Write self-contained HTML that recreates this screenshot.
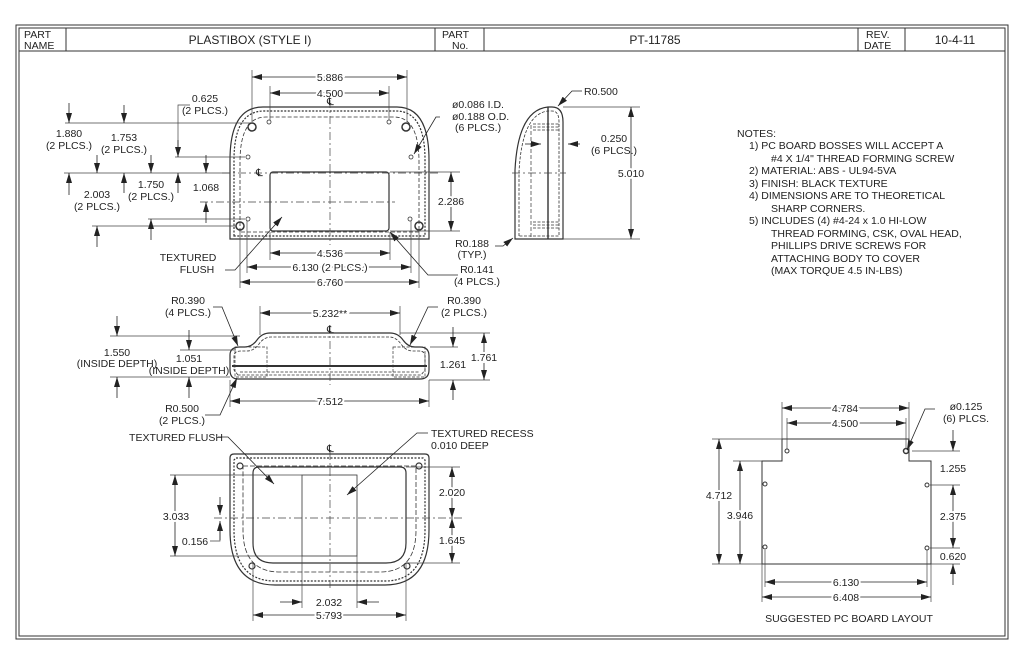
<!DOCTYPE html>
<html><head><meta charset="utf-8"><style>
html,body{margin:0;padding:0;background:#fff;}
svg{display:block;}
text{font-family:"Liberation Sans Narrow","Liberation Sans",sans-serif;font-size:10.5px;fill:#222;}
.d{paint-order:stroke;stroke:#fff;stroke-width:4px;}
.t{font-size:12px;}
</style></head><body>
<svg width="1024" height="663" viewBox="0 0 1024 663" xmlns="http://www.w3.org/2000/svg">
<defs>
<marker id="a" viewBox="0 0 10 6" refX="10" refY="3" markerWidth="10" markerHeight="6" markerUnits="userSpaceOnUse" orient="auto-start-reverse"><path d="M0,0L10,3L0,6z" fill="#222"/></marker>
</defs>
<g fill="none" stroke="#333" stroke-width="1">
<!-- frame -->
<rect x="16" y="25" width="992" height="614"/>
<rect x="19" y="28" width="986" height="608"/>
<line x1="19" y1="51" x2="1005" y2="51"/>
<line x1="66" y1="28" x2="66" y2="51"/><line x1="435" y1="28" x2="435" y2="51"/><line x1="484" y1="28" x2="484" y2="51"/>
<line x1="858" y1="28" x2="858" y2="51"/><line x1="905" y1="28" x2="905" y2="51"/>
</g>
<text x="24" y="38">PART</text><text x="24" y="49">NAME</text>
<text class="t" x="250" y="44" text-anchor="middle">PLASTIBOX (STYLE I)</text>
<text x="442" y="38">PART</text><text x="452" y="49">No.</text>
<text class="t" x="655" y="44" text-anchor="middle">PT-11785</text>
<text x="866" y="38">REV.</text><text x="864" y="49">DATE</text>
<text class="t" x="955" y="44" text-anchor="middle">10-4-11</text>

<!-- FRONT VIEW -->
<g fill="none" stroke="#333" stroke-width="1.2">
<path d="M230,239 L230,160 Q230,107 263,107 L397,107 Q429,107 429,160 L429,239 Z"/>
<path d="M234,236 L234,160 Q234,111 264,111 L396,111 Q425,111 425,160 L425,236 Z" stroke-dasharray="2,1.5"/>
<path d="M240,232 L240,162 Q240,117 266,117 L394,117 Q419,117 419,162 L419,232 Z" stroke-dasharray="4,2" stroke-width=".8"/>
<rect x="270" y="172" width="119" height="59" rx="3"/>
<g stroke-width="1.5"><circle cx="252" cy="127" r="4"/><circle cx="406" cy="127" r="4"/><circle cx="240" cy="226" r="4"/><circle cx="419" cy="226" r="4"/></g>
<g stroke-width=".8"><circle cx="269" cy="122" r="2"/><circle cx="389" cy="122" r="2"/><circle cx="248" cy="157" r="2"/><circle cx="411" cy="157" r="2"/><circle cx="248" cy="219" r="2"/><circle cx="410" cy="219" r="2"/></g>
</g>
<g fill="none" stroke="#444" stroke-width=".7">
<line x1="330" y1="100" x2="330" y2="245" stroke-dasharray="8,3,2,3"/>
<line x1="222" y1="173" x2="440" y2="173" stroke-dasharray="8,3,2,3"/>
<line x1="200" y1="202" x2="395" y2="202" stroke-dasharray="8,3,2,3"/>
<!-- ext lines -->
<line x1="252" y1="70" x2="252" y2="122"/><line x1="407" y1="70" x2="407" y2="122"/>
<line x1="270" y1="86" x2="270" y2="120"/><line x1="389" y1="86" x2="389" y2="120"/>
<line x1="270" y1="232" x2="270" y2="260"/><line x1="390" y1="232" x2="390" y2="260"/>
<line x1="247" y1="221" x2="247" y2="273"/><line x1="411" y1="221" x2="411" y2="273"/>
<line x1="240" y1="231" x2="240" y2="288"/><line x1="419" y1="231" x2="419" y2="288"/>
<line x1="390" y1="172" x2="460" y2="172"/><line x1="390" y1="231" x2="460" y2="231"/>
<line x1="65" y1="123" x2="250" y2="123"/><line x1="64" y1="173" x2="230" y2="173"/>
<line x1="175" y1="157" x2="245" y2="157"/><line x1="148" y1="219" x2="245" y2="219"/>
<line x1="92" y1="226" x2="236" y2="226"/>
<polyline points="190,105 178,105 178,157"/>
</g>
<g stroke="#222" stroke-width=".8" fill="none">
<line x1="252" y1="77" x2="407" y2="77" marker-start="url(#a)" marker-end="url(#a)"/>
<line x1="270" y1="93" x2="389" y2="93" marker-start="url(#a)" marker-end="url(#a)"/>
<line x1="270" y1="253" x2="390" y2="253" marker-start="url(#a)" marker-end="url(#a)"/>
<line x1="247" y1="267" x2="411" y2="267" marker-start="url(#a)" marker-end="url(#a)"/>
<line x1="240" y1="282" x2="419" y2="282" marker-start="url(#a)" marker-end="url(#a)"/>
<line x1="451" y1="172" x2="451" y2="231" marker-start="url(#a)" marker-end="url(#a)"/>
<line x1="69" y1="103" x2="69" y2="123" marker-end="url(#a)"/><line x1="69" y1="195" x2="69" y2="173" marker-end="url(#a)"/>
<line x1="124" y1="105" x2="124" y2="123" marker-end="url(#a)"/><line x1="124" y1="193" x2="124" y2="173" marker-end="url(#a)"/>
<line x1="97" y1="155" x2="97" y2="173" marker-end="url(#a)"/><line x1="97" y1="247" x2="97" y2="226" marker-end="url(#a)"/>
<line x1="151" y1="155" x2="151" y2="173" marker-end="url(#a)"/><line x1="151" y1="240" x2="151" y2="219" marker-end="url(#a)"/>
<line x1="178" y1="140" x2="178" y2="157" marker-end="url(#a)"/><line x1="178" y1="193" x2="178" y2="173" marker-end="url(#a)"/>
<line x1="206" y1="155" x2="206" y2="173" marker-end="url(#a)"/><line x1="206" y1="223" x2="206" y2="202" marker-end="url(#a)"/>
<polyline points="440,117 436,117 414,154" marker-end="url(#a)"/>
<polyline points="225,270 235,270 282,217" marker-end="url(#a)"/>
<polyline points="458,275 428,275 390,232" marker-end="url(#a)"/>
<polyline points="495,246 503,246 513,238" marker-end="url(#a)"/>
</g>
<g>
<text class="d" x="330" y="81" text-anchor="middle">5.886</text>
<text class="d" x="330" y="97" text-anchor="middle">4.500</text>
<text class="d" x="330" y="257" text-anchor="middle">4.536</text>
<text class="d" x="330" y="271" text-anchor="middle">6.130 (2 PLCS.)</text>
<text class="d" x="330" y="286" text-anchor="middle">6.760</text>
<text class="d" x="451" y="205" text-anchor="middle">2.286</text>
<text x="69" y="137" text-anchor="middle">1.880</text><text x="69" y="149" text-anchor="middle">(2 PLCS.)</text>
<text x="124" y="141" text-anchor="middle">1.753</text><text x="124" y="153" text-anchor="middle">(2 PLCS.)</text>
<text x="97" y="198" text-anchor="middle">2.003</text><text x="97" y="210" text-anchor="middle">(2 PLCS.)</text>
<text x="151" y="188" text-anchor="middle">1.750</text><text x="151" y="200" text-anchor="middle">(2 PLCS.)</text>
<text x="206" y="191" text-anchor="middle">1.068</text>
<text x="205" y="102" text-anchor="middle">0.625</text><text x="205" y="114" text-anchor="middle">(2 PLCS.)</text>
<text x="452" y="108">ø0.086 I.D.</text><text x="452" y="120">ø0.188 O.D.</text><text x="455" y="131">(6 PLCS.)</text>
<text x="188" y="261" text-anchor="middle">TEXTURED</text><text x="197" y="273" text-anchor="middle">FLUSH</text>
<text x="472" y="247" text-anchor="middle">R0.188</text><text x="472" y="258" text-anchor="middle">(TYP.)</text>
<text x="477" y="273" text-anchor="middle">R0.141</text><text x="477" y="285" text-anchor="middle">(4 PLCS.)</text>
<text x="327" y="105" font-size="8">℄</text><text x="256" y="176" font-size="8">℄</text>
</g>

<!-- SIDE VIEW -->
<g fill="none" stroke="#333" stroke-width="1.2">
<path d="M515,239 L515,170 Q518,110 548,107 L552,107 Q563,107 563,122 L563,239 Z"/>
<path d="M519,236 L519,172 Q522,114 548,111 L552,111 Q559,111 559,122 L559,236 Z" stroke-dasharray="3,1.5" stroke-width=".8"/>
<line x1="548" y1="107" x2="548" y2="239" stroke-width="1.4"/>
<line x1="531" y1="125" x2="531" y2="237" stroke-width=".7" stroke-dasharray="4,2"/>
<g stroke-width=".7" stroke-dasharray="3,1.5"><line x1="533" y1="124" x2="560" y2="124"/><line x1="533" y1="127" x2="560" y2="127"/><line x1="533" y1="130" x2="560" y2="130"/><line x1="533" y1="222" x2="560" y2="222"/><line x1="533" y1="225" x2="560" y2="225"/><line x1="533" y1="228" x2="560" y2="228"/></g>
</g>
<g stroke="#444" stroke-width=".7" fill="none">
<line x1="512" y1="173" x2="566" y2="173" stroke-dasharray="8,3,2,3"/>
<line x1="563" y1="107" x2="640" y2="107"/><line x1="563" y1="239" x2="640" y2="239"/>
</g>
<g stroke="#222" stroke-width=".8" fill="none">
<line x1="631" y1="107" x2="631" y2="239" marker-start="url(#a)" marker-end="url(#a)"/>
<line x1="525" y1="144" x2="541" y2="144" marker-end="url(#a)"/><line x1="580" y1="144" x2="568" y2="144" marker-end="url(#a)"/>
<polyline points="582,91 572,91 558,106" marker-end="url(#a)"/>
</g>
<text class="d" x="631" y="177" text-anchor="middle">5.010</text>
<text x="584" y="95">R0.500</text>
<text x="614" y="142" text-anchor="middle">0.250</text><text x="614" y="154" text-anchor="middle">(6 PLCS.)</text>

<!-- NOTES -->
<g>
<text x="737" y="137">NOTES:</text>
<text x="749" y="149">1) PC BOARD BOSSES WILL ACCEPT A</text>
<text x="771" y="162">#4 X 1/4" THREAD FORMING SCREW</text>
<text x="749" y="174">2) MATERIAL: ABS - UL94-5VA</text>
<text x="749" y="187">3) FINISH: BLACK TEXTURE</text>
<text x="749" y="199">4) DIMENSIONS ARE TO THEORETICAL</text>
<text x="771" y="212">SHARP CORNERS.</text>
<text x="749" y="224">5) INCLUDES (4) #4-24 x 1.0 HI-LOW</text>
<text x="771" y="237">THREAD FORMING, CSK, OVAL HEAD,</text>
<text x="771" y="249">PHILLIPS DRIVE SCREWS FOR</text>
<text x="771" y="262">ATTACHING BODY TO COVER</text>
<text x="771" y="274">(MAX TORQUE 4.5 IN-LBS)</text>
</g>

<!-- TOP (DEPTH) VIEW -->
<g fill="none" stroke="#333" stroke-width="1.2">
<path d="M238,379 Q230,379 230,370 L230,355 Q230,347 240,347 L245,347 Q252,347 257,340 Q262,333 270,333 L390,333 Q398,333 403,340 Q408,347 415,347 L420,347 Q429,347 429,356 L429,370 Q429,379 420,379 Z"/>
<path d="M238,375 L234,370 L234,356 Q234,351 241,351 L247,351 Q254,351 259,344 Q264,337 271,337 L389,337 Q396,337 401,344 Q406,351 413,351 L419,351 Q425,351 425,356 L425,370 L421,375 Z" stroke-dasharray="3,1.5" stroke-width=".8"/>
<line x1="232" y1="366" x2="427" y2="366" stroke-width="2"/>
<g stroke-width=".7" stroke-dasharray="3,1.5"><rect x="235" y="347" width="32" height="30"/><rect x="393" y="347" width="32" height="30"/><line x1="240" y1="372" x2="420" y2="372"/></g>
</g>
<g stroke="#444" stroke-width=".7" fill="none">
<line x1="330" y1="325" x2="330" y2="385" stroke-dasharray="8,3,2,3"/>
<line x1="260" y1="306" x2="260" y2="335"/><line x1="400" y1="306" x2="400" y2="335"/>
<line x1="230" y1="380" x2="230" y2="407"/><line x1="429" y1="380" x2="429" y2="407"/>
<line x1="400" y1="333" x2="490" y2="333"/><line x1="429" y1="380" x2="490" y2="380"/><line x1="430" y1="347" x2="458" y2="347"/>
<line x1="110" y1="336" x2="240" y2="336"/><line x1="110" y1="377" x2="230" y2="377"/><line x1="180" y1="350" x2="236" y2="350"/>
</g>
<g stroke="#222" stroke-width=".8" fill="none">
<line x1="260" y1="313" x2="400" y2="313" marker-start="url(#a)" marker-end="url(#a)"/>
<line x1="230" y1="401" x2="429" y2="401" marker-start="url(#a)" marker-end="url(#a)"/>
<line x1="484" y1="333" x2="484" y2="380" marker-start="url(#a)" marker-end="url(#a)"/>
<line x1="453" y1="327" x2="453" y2="347" marker-end="url(#a)"/><line x1="453" y1="400" x2="453" y2="380" marker-end="url(#a)"/>
<line x1="117" y1="316" x2="117" y2="336" marker-end="url(#a)"/><line x1="117" y1="398" x2="117" y2="377" marker-end="url(#a)"/>
<line x1="189" y1="330" x2="189" y2="350" marker-end="url(#a)"/><line x1="189" y1="398" x2="189" y2="377" marker-end="url(#a)"/>
<polyline points="213,307 222,307 238,346" marker-end="url(#a)"/>
<polyline points="438,307 428,307 410,345" marker-end="url(#a)"/>
<polyline points="205,415 220,415 237,378" marker-end="url(#a)"/>
</g>
<text class="d" x="330" y="317" text-anchor="middle">5.232**</text>
<text class="d" x="330" y="405" text-anchor="middle">7.512</text>
<text class="d" x="484" y="361" text-anchor="middle">1.761</text>
<text x="453" y="368" text-anchor="middle">1.261</text>
<text x="117" y="356" text-anchor="middle">1.550</text><text x="117" y="367" text-anchor="middle">(INSIDE DEPTH)</text>
<text x="189" y="362" text-anchor="middle">1.051</text><text x="189" y="374" text-anchor="middle">(INSIDE DEPTH)</text>
<text x="188" y="304" text-anchor="middle">R0.390</text><text x="188" y="316" text-anchor="middle">(4 PLCS.)</text>
<text x="464" y="304" text-anchor="middle">R0.390</text><text x="464" y="316" text-anchor="middle">(2 PLCS.)</text>
<text x="182" y="412" text-anchor="middle">R0.500</text><text x="182" y="424" text-anchor="middle">(2 PLCS.)</text>
<text x="327" y="333" font-size="8">℄</text>

<!-- BOTTOM VIEW -->
<g fill="none" stroke="#333" stroke-width="1.2">
<path d="M234,454 L425,454 Q429,454 429,458 L429,530 Q429,585 385,585 L275,585 Q230,585 230,530 L230,458 Q230,454 234,454 Z"/>
<path d="M236,458 L423,458 L425,460 L425,530 Q425,581 385,581 L275,581 Q234,581 234,530 L234,460 Z" stroke-dasharray="2,1.5"/>
<path d="M243,466 L416,466 L416,530 Q416,572 380,572 L280,572 Q243,572 243,530 Z" stroke-dasharray="5,2" stroke-width=".8"/>
<path d="M259,467 L400,467 Q406,467 406,473 L406,543 Q406,563 386,563 L273,563 Q253,563 253,543 L253,473 Q253,467 259,467 Z"/>
<rect x="302" y="475" width="55" height="81" stroke-width=".8"/>
<g stroke-width="1.2"><circle cx="240" cy="466" r="3"/><circle cx="419" cy="466" r="3"/><circle cx="252" cy="566" r="3"/><circle cx="407" cy="566" r="3"/></g>
</g>
<g stroke="#444" stroke-width=".7" fill="none">
<line x1="330" y1="452" x2="330" y2="590" stroke-dasharray="8,3,2,3"/>
<line x1="214" y1="518" x2="462" y2="518" stroke-dasharray="8,3,2,3"/>
<line x1="406" y1="467" x2="460" y2="467"/><line x1="406" y1="563" x2="460" y2="563"/>
<line x1="170" y1="475" x2="302" y2="475"/><line x1="170" y1="556" x2="302" y2="556"/>
<line x1="302" y1="556" x2="302" y2="608"/><line x1="357" y1="556" x2="357" y2="608"/>
<line x1="253" y1="563" x2="253" y2="621"/><line x1="406" y1="563" x2="406" y2="621"/>
<polyline points="210,541 220,541 220,522"/>
</g>
<g stroke="#222" stroke-width=".8" fill="none">
<line x1="452" y1="467" x2="452" y2="518" marker-start="url(#a)" marker-end="url(#a)"/>
<line x1="452" y1="518" x2="452" y2="563" marker-start="url(#a)" marker-end="url(#a)"/>
<line x1="175" y1="475" x2="175" y2="556" marker-start="url(#a)" marker-end="url(#a)"/>
<line x1="220" y1="497" x2="220" y2="515" marker-end="url(#a)"/><line x1="220" y1="540" x2="220" y2="521" marker-end="url(#a)"/>
<line x1="280" y1="602" x2="302" y2="602" marker-end="url(#a)"/><line x1="379" y1="602" x2="357" y2="602" marker-end="url(#a)"/>
<line x1="253" y1="615" x2="406" y2="615" marker-start="url(#a)" marker-end="url(#a)"/>
<polyline points="218,437 228,437 274,484" marker-end="url(#a)"/>
<polyline points="428,433 417,433 347,495" marker-end="url(#a)"/>
</g>
<text class="d" x="452" y="496" text-anchor="middle">2.020</text>
<text class="d" x="452" y="544" text-anchor="middle">1.645</text>
<text class="d" x="176" y="520" text-anchor="middle">3.033</text>
<text x="195" y="545" text-anchor="middle">0.156</text>
<text x="329" y="606" text-anchor="middle">2.032</text>
<text class="d" x="329" y="619" text-anchor="middle">5.793</text>
<text x="176" y="441" text-anchor="middle">TEXTURED FLUSH</text>
<text x="431" y="437">TEXTURED RECESS</text><text x="431" y="449">0.010 DEEP</text>
<text x="327" y="452" font-size="8">℄</text>

<!-- PC BOARD -->
<g fill="none" stroke="#333" stroke-width="1">
<path d="M782,439 L909,439 L909,461 L931,461 L931,564 L762,564 L762,461 L782,461 Z"/>
<circle cx="787" cy="451" r="2"/><circle cx="906" cy="451" r="2.5" stroke-width="1.5"/>
<circle cx="765" cy="484" r="2"/><circle cx="927" cy="485" r="2"/>
<circle cx="765" cy="547" r="2"/><circle cx="927" cy="548" r="2"/>
</g>
<g stroke="#444" stroke-width=".7" fill="none">
<line x1="782" y1="402" x2="782" y2="439"/><line x1="909" y1="402" x2="909" y2="439"/>
<line x1="787" y1="418" x2="787" y2="449"/><line x1="906" y1="418" x2="906" y2="449"/>
<line x1="712" y1="439" x2="782" y2="439"/><line x1="733" y1="461" x2="762" y2="461"/><line x1="712" y1="564" x2="762" y2="564"/>
<line x1="912" y1="451" x2="960" y2="451"/><line x1="930" y1="485" x2="960" y2="485"/><line x1="930" y1="548" x2="960" y2="548"/><line x1="931" y1="564" x2="960" y2="564"/>
<line x1="762" y1="564" x2="762" y2="602"/><line x1="931" y1="564" x2="931" y2="602"/>
<line x1="765" y1="550" x2="765" y2="587"/><line x1="927" y1="550" x2="927" y2="587"/>
</g>
<g stroke="#222" stroke-width=".8" fill="none">
<line x1="782" y1="408" x2="909" y2="408" marker-start="url(#a)" marker-end="url(#a)"/>
<line x1="787" y1="423" x2="906" y2="423" marker-start="url(#a)" marker-end="url(#a)"/>
<line x1="719" y1="439" x2="719" y2="564" marker-start="url(#a)" marker-end="url(#a)"/>
<line x1="740" y1="461" x2="740" y2="564" marker-start="url(#a)" marker-end="url(#a)"/>
<line x1="953" y1="430" x2="953" y2="451" marker-end="url(#a)"/>
<line x1="953" y1="485" x2="953" y2="548" marker-start="url(#a)" marker-end="url(#a)"/>
<line x1="953" y1="585" x2="953" y2="564" marker-end="url(#a)"/>
<line x1="765" y1="582" x2="927" y2="582" marker-start="url(#a)" marker-end="url(#a)"/>
<line x1="762" y1="597" x2="931" y2="597" marker-start="url(#a)" marker-end="url(#a)"/>
<polyline points="935,409 925,409 907,450" marker-end="url(#a)"/>
</g>
<text class="d" x="845" y="412" text-anchor="middle">4.784</text>
<text class="d" x="845" y="427" text-anchor="middle">4.500</text>
<text class="d" x="719" y="499" text-anchor="middle">4.712</text>
<text class="d" x="740" y="519" text-anchor="middle">3.946</text>
<text x="953" y="472" text-anchor="middle">1.255</text>
<text class="d" x="953" y="520" text-anchor="middle">2.375</text>
<text x="953" y="560" text-anchor="middle">0.620</text>
<text class="d" x="846" y="586" text-anchor="middle">6.130</text>
<text class="d" x="846" y="601" text-anchor="middle">6.408</text>
<text x="966" y="410" text-anchor="middle">ø0.125</text><text x="966" y="422" text-anchor="middle">(6) PLCS.</text>
<text x="849" y="622" text-anchor="middle">SUGGESTED PC BOARD LAYOUT</text>
</svg>
</body></html>
